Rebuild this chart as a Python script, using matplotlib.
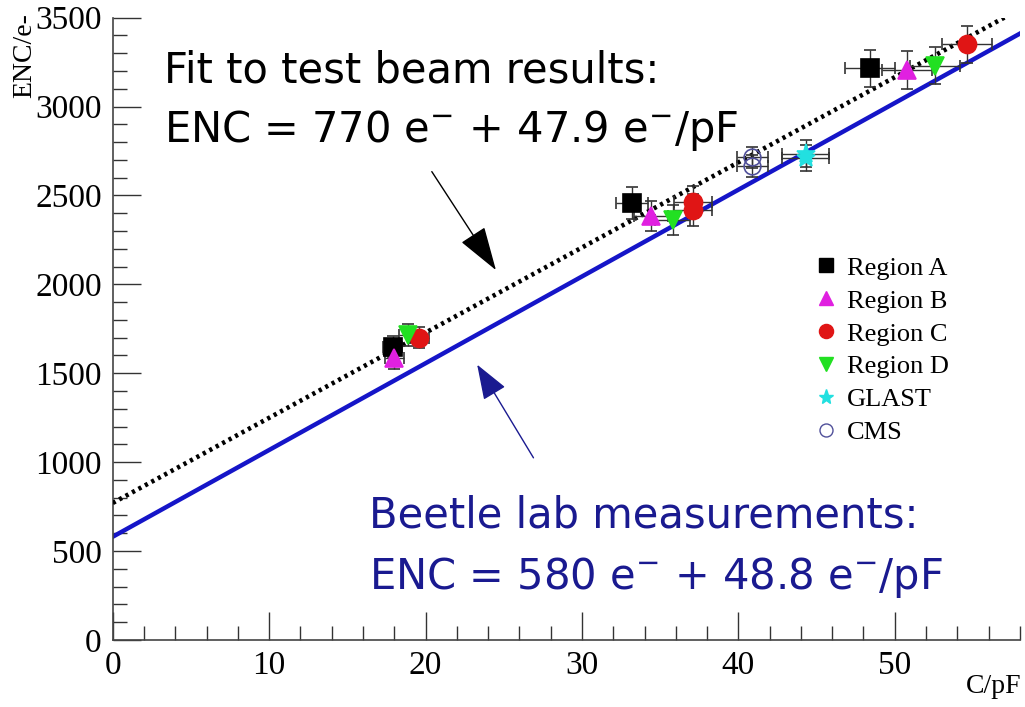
import numpy as np
import matplotlib
matplotlib.use("Agg")
import matplotlib.pyplot as plt
from matplotlib.ticker import MultipleLocator
from matplotlib.lines import Line2D

# Measured ENC points per detector region
regA_x = [17.9, 33.2, 48.4]
regA_y = [1650, 2455, 3215]
regA_xerr = [0.6, 1.0, 1.6]
regA_yerr = [60, 90, 105]

regB_x = [18.0, 34.4, 50.8]
regB_y = [1585, 2385, 3205]
regB_xerr = [0.6, 1.1, 1.6]
regB_yerr = [60, 85, 105]

regC_x = [19.6, 37.1, 37.1, 54.6]
regC_y = [1700, 2465, 2420, 3350]
regC_xerr = [0.6, 1.2, 1.2, 1.6]
regC_yerr = [60, 90, 90, 105]

regD_x = [18.9, 35.8, 52.6]
regD_y = [1715, 2360, 3230]
regD_xerr = [0.6, 1.1, 1.6]
regD_yerr = [60, 85, 105]

glast_x = [44.3, 44.3]
glast_y = [2735, 2710]
glast_xerr = [1.5, 1.5]
glast_yerr = [75, 75]

cms_x = [40.9, 40.9]
cms_y = [2715, 2665]
cms_xerr = [1.0, 1.0]
cms_yerr = [60, 60]

# Linear ENC models: offset [e-] and slope [e-/pF]
fit_offset, fit_slope = 770, 47.9
lab_offset, lab_slope = 580, 48.8

x_max, y_max = 58, 3500

serif = ["Liberation Serif", "DejaVu Serif"]
hand = ["DejaVu Sans"]
navy = "#1a1a90"

fig = plt.figure(figsize=(10.25, 7.07), dpi=100)
ax = fig.add_axes([0.110, 0.095, 0.885, 0.880])

c = np.linspace(0, x_max, 200)
ax.plot(c, lab_offset + lab_slope * c, color="#1515c8", lw=3.2, zorder=2)
ax.plot(c, fit_offset + fit_slope * c, color="black", lw=3.3,
        linestyle=(0, (0.7, 0.9)), zorder=3)

err_kw = dict(ecolor="#333333", elinewidth=1.0, capsize=4, capthick=1.0,
              linestyle="none", zorder=4)

series = [
    (regA_x, regA_y, regA_xerr, regA_yerr, "s", 13, "black", "black", "Region A"),
    (regB_x, regB_y, regB_xerr, regB_yerr, "^", 13, "#e020e0", "#e020e0", "Region B"),
    (regC_x, regC_y, regC_xerr, regC_yerr, "o", 13, "#e01515", "#e01515", "Region C"),
    (regD_x, regD_y, regD_xerr, regD_yerr, "v", 13, "#22e022", "#22e022", "Region D"),
    (glast_x, glast_y, glast_xerr, glast_yerr, "*", 14, "#22e0e0", "#22e0e0", "GLAST"),
    (cms_x, cms_y, cms_xerr, cms_yerr, "o", 12, "none", "#50509a", "CMS"),
]

handles = []
for xs, ys, xe, ye, mk, ms, fc, ec, name in series:
    ax.errorbar(xs, ys, xerr=xe, yerr=ye, marker=mk, ms=ms, mfc=fc, mec=ec,
                mew=1.2, **err_kw)
    handles.append(Line2D([], [], linestyle="none", marker=mk,
                          ms=ms * 0.78, mfc=fc, mec=ec, mew=1.0, label=name))

ax.set_xlim(0, x_max)
ax.set_ylim(0, y_max)

ax.xaxis.set_major_locator(MultipleLocator(10))
ax.xaxis.set_minor_locator(MultipleLocator(2))
ax.yaxis.set_major_locator(MultipleLocator(500))
ax.yaxis.set_minor_locator(MultipleLocator(100))
ax.tick_params(which="major", direction="in", length=20, width=1.0,
               color="#333333", labelsize=24, pad=8)
ax.tick_params(which="minor", direction="in", length=10, width=1.0,
               color="#333333")
ax.tick_params(axis="x", which="both", top=False)
ax.tick_params(axis="y", which="both", right=False)
for lab in ax.get_xticklabels() + ax.get_yticklabels():
    lab.set_family(serif)
ax.spines["top"].set_visible(False)
ax.spines["right"].set_visible(False)
for s in ("left", "bottom"):
    ax.spines[s].set_color("#444444")
    ax.spines[s].set_linewidth(1.2)

fig.text(0.997, 0.012, "C/pF", ha="right", va="bottom", fontsize=20,
         family=serif)
fig.text(0.012, 0.982, "ENC/e-", ha="left", va="top", rotation=90,
         fontsize=20, family=serif)

ax.legend(handles=handles, loc="upper left", bbox_to_anchor=(0.757, 0.638),
          frameon=False, prop={"family": serif, "size": 19},
          handletextpad=0.3, labelspacing=0.36, handlelength=1.0,
          borderpad=0.0)

# Annotations for the two ENC models
txt_kw = dict(transform=ax.transAxes, fontsize=30, family=hand, va="center")
ax.text(0.057, 0.915, "Fit to test beam results:", color="black", **txt_kw)
ax.text(0.057, 0.818, r"ENC = 770 e$^{-}$ + 47.9 e$^{-}$/pF", color="black",
        **txt_kw)
ax.text(0.283, 0.20, "Beetle lab measurements:", color=navy, **txt_kw)
ax.text(0.283, 0.10, r"ENC = 580 e$^{-}$ + 48.8 e$^{-}$/pF", color=navy,
        **txt_kw)

ax.annotate("", xy=(24.5, 2080), xytext=(20.4, 2634),
            arrowprops=dict(arrowstyle="-|>,head_length=2.8,head_width=0.9",
                            color="black", lw=1.0, shrinkA=0, shrinkB=0))
ax.annotate("", xy=(23.3, 1548), xytext=(26.9, 1024),
            arrowprops=dict(arrowstyle="-|>,head_length=2.2,head_width=0.8",
                            color=navy, lw=1.0, shrinkA=0, shrinkB=0))

fig.savefig("out.png", dpi=100)
